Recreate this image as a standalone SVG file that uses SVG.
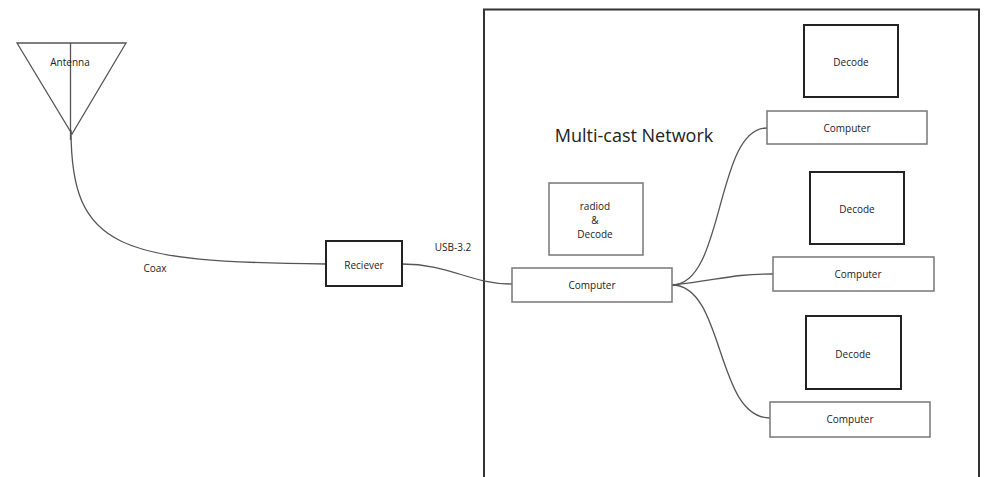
<svg xmlns="http://www.w3.org/2000/svg" width="984" height="477" viewBox="0 0 984 477">
  <style>
    .lbl { font-family: "Open Sans", "Liberation Sans", sans-serif; fill: #222; text-anchor: middle; }
    .sm { font-size: 10px; }
    .box { fill: #fff; stroke: #777; stroke-width: 1.5; }
    .boxd { fill: #fff; stroke: #222; stroke-width: 2; }
    .wire { fill: none; stroke: #555; stroke-width: 1.3; }
  </style>
  <rect width="984" height="477" fill="#fff"/>

  <!-- network enclosure -->
  <g id="network">
    <path d="M484,477 V9.5 H979 V477" fill="none" stroke="#333" stroke-width="2"/>
    <text class="lbl" x="634" y="142" font-size="18">Multi-cast Network</text>
  </g>

  <!-- connectors -->
  <g id="connectors">
    <path class="wire" d="M71,130 C71,250 120,262 326,264"/>
    <path class="wire" d="M402,264 C450,264 470,284 512,284"/>
    <path class="wire" d="M672,285 C725,285 715,128 767,128"/>
    <path class="wire" d="M672,285 C720,280 730,274 773,274"/>
    <path class="wire" d="M672,285 C725,285 715,418 770,418"/>
    <text class="lbl sm" x="155" y="272">Coax</text>
    <text class="lbl sm" x="453" y="251">USB-3.2</text>
  </g>

  <g id="antenna">
    <path d="M17,43 H126 L72,134 Z" fill="none" stroke="#555" stroke-width="1.3"/>
    <line x1="70.5" y1="43" x2="70.5" y2="140" stroke="#555" stroke-width="1.3"/>
    <text class="lbl sm" x="70" y="66">Antenna</text>
  </g>

  <g id="receiver">
    <rect class="boxd" x="326" y="241" width="76" height="45"/>
    <text class="lbl sm" x="364" y="269">Reciever</text>
  </g>

  <g id="radiod">
    <rect class="box" x="549" y="183" width="94" height="72"/>
    <text class="lbl sm" x="595" y="210">radiod</text>
    <text class="lbl sm" x="595" y="224">&amp;</text>
    <text class="lbl sm" x="595" y="238">Decode</text>
  </g>

  <g id="computer-main">
    <rect class="box" x="512" y="268" width="160" height="34"/>
    <text class="lbl sm" x="592" y="289">Computer</text>
  </g>

  <g id="decode-1">
    <rect class="boxd" x="804" y="25" width="94" height="72"/>
    <text class="lbl sm" x="851" y="66">Decode</text>
  </g>
  <g id="computer-1">
    <rect class="box" x="767" y="111" width="160" height="33"/>
    <text class="lbl sm" x="847" y="132">Computer</text>
  </g>

  <g id="decode-2">
    <rect class="boxd" x="810" y="172" width="94" height="72"/>
    <text class="lbl sm" x="857" y="213">Decode</text>
  </g>
  <g id="computer-2">
    <rect class="box" x="773" y="257" width="161" height="34"/>
    <text class="lbl sm" x="858" y="278">Computer</text>
  </g>

  <g id="decode-3">
    <rect class="boxd" x="806" y="316" width="95" height="73"/>
    <text class="lbl sm" x="853" y="358">Decode</text>
  </g>
  <g id="computer-3">
    <rect class="box" x="770" y="402" width="160" height="35"/>
    <text class="lbl sm" x="850" y="423">Computer</text>
  </g>
</svg>
